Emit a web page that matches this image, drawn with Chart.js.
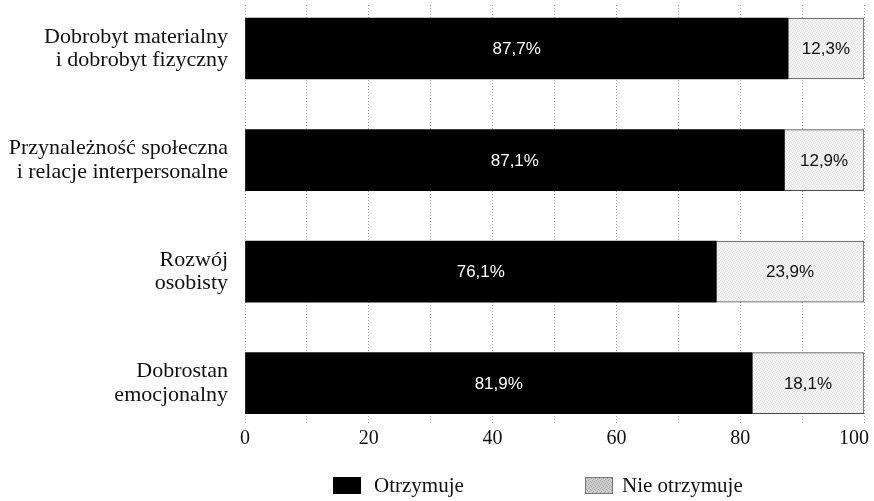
<!DOCTYPE html>
<html>
<head>
<meta charset="utf-8">
<script src="https://cdn.jsdelivr.net/npm/chart.js@4.4.0/dist/chart.umd.min.js"></script>
<style>
  html, body { margin: 0; padding: 0; background: #fff; }
  #wrap { width: 874px; height: 501px; position: relative; }
</style>
</head>
<body>
<div id="wrap"><canvas id="c" width="874" height="501"></canvas></div>
<script>
// Categories (two-line labels), shares in percent
const categories = [
  ['Dobrobyt materialny', 'i dobrobyt fizyczny'],
  ['Przynależność społeczna', 'i relacje interpersonalne'],
  ['Rozwój', 'osobisty'],
  ['Dobrostan', 'emocjonalny']
];
const receives = [87.7, 87.1, 76.1, 81.9];
const notReceives = [12.3, 12.9, 23.9, 18.1];
const seriesNames = ['Otrzymuje', 'Nie otrzymuje'];
const xTickLabels = [0, 20, 40, 60, 80, 100];

const SERIF = 'Liberation Serif';
const SANS = 'Liberation Sans';

// Fine stippled grey fill
function stipple(base, dot) {
  const p = document.createElement('canvas');
  p.width = 4; p.height = 4;
  const g = p.getContext('2d');
  g.fillStyle = base; g.fillRect(0, 0, 4, 4);
  g.fillStyle = dot;
  [[0, 0], [2, 1], [1, 3], [3, 2]].forEach(([x, y]) => g.fillRect(x, y, 1, 1));
  return g.createPattern(p, 'repeat');
}
const lightFill = stipple('#f2f2f2', '#e0e0e0');
const lightSwatch = stipple('#cdcdcd', '#a8a8a8');

const fmt = v => v.toFixed(1).replace('.', ',') + '%';

// Scales keep exactly the size they are given, with no extra edge padding
function fixedSize(prop, size) {
  return s => {
    s[prop] = size;
    s.paddingTop = 0; s.paddingBottom = 0; s.paddingLeft = 0; s.paddingRight = 0;
  };
}

// Percentage written in the middle of each segment
const valueLabels = {
  id: 'valueLabels',
  afterDatasetsDraw(chart) {
    const ctx = chart.ctx;
    ctx.save();
    ctx.font = '17px "' + SANS + '"';
    ctx.textAlign = 'center';
    ctx.textBaseline = 'middle';
    chart.data.datasets.forEach((ds, di) => {
      const meta = chart.getDatasetMeta(di);
      ctx.fillStyle = di === 0 ? '#ffffff' : '#111111';
      meta.data.forEach((bar, i) => {
        const p = bar.getProps(['x', 'y', 'base'], true);
        ctx.fillText(fmt(ds.data[i].x), (p.x + p.base) / 2, p.y + 1);
      });
    });
    ctx.restore();
  }
};

// Legend row under the axis
const legendRow = {
  id: 'legendRow',
  afterDraw(chart) {
    const ctx = chart.ctx;
    const xs = [333, 585];
    const cy = 485;
    const swatches = ['#000000', lightSwatch];
    const borders = ['#000000', '#777777'];
    ctx.save();
    ctx.font = '21px "' + SERIF + '"';
    ctx.textBaseline = 'middle';
    ctx.textAlign = 'left';
    chart.data.datasets.forEach((ds, i) => {
      ctx.fillStyle = swatches[i];
      ctx.fillRect(xs[i], cy - 8, 28, 17);
      ctx.strokeStyle = borders[i];
      ctx.lineWidth = 1;
      ctx.strokeRect(xs[i] + 0.5, cy - 7.5, 27, 16);
      ctx.fillStyle = '#111111';
      ctx.fillText(ds.label, xs[i] + 41 - i * 4, cy + 1);
    });
    ctx.restore();
  }
};

new Chart(document.getElementById('c'), {
  type: 'bar',
  data: {
    datasets: [
      {
        label: seriesNames[0],
        data: receives.map((v, i) => ({ x: v, y: i })),
        backgroundColor: '#000000',
        borderWidth: 0,
        barThickness: 61
      },
      {
        label: seriesNames[1],
        data: notReceives.map((v, i) => ({ x: v, y: i })),
        backgroundColor: lightFill,
        borderColor: '#4a4a4a',
        borderWidth: 1,
        borderSkipped: false,
        barThickness: 61
      }
    ]
  },
  options: {
    indexAxis: 'y',
    responsive: false,
    devicePixelRatio: 1,
    animation: false,
    layout: { autoPadding: false, padding: { top: 5, right: 10, bottom: 0, left: 0 } },
    plugins: { legend: { display: false }, tooltip: { enabled: false } },
    scales: {
      x: {
        type: 'linear',
        stacked: true,
        min: 0,
        max: 100,
        afterFit: fixedSize('height', 78),
        grid: { color: '#a3a3a3', lineWidth: 1, drawTicks: false },
        border: { display: false, dash: [1, 2] },
        ticks: {
          stepSize: 10,
          autoSkip: false,
          maxRotation: 0,
          padding: 4,
          color: '#111111',
          font: { family: SERIF, size: 20 },
          callback: v => xTickLabels.includes(v) ? (v === 100 ? '100\u2003' : String(v)) : ''
        }
      },
      y: {
        type: 'linear',
        stacked: true,
        reverse: true,
        offset: false,
        bounds: 'data',
        min: -0.39,
        max: 3.357,
        afterBuildTicks: s => { s.ticks = categories.map((_, i) => ({ value: i })); },
        afterFit: fixedSize('width', 245),
        grid: { display: false, drawTicks: false },
        border: { display: false },
        ticks: {
          autoSkip: false,
          padding: 17,
          color: '#111111',
          font: { family: SERIF, size: 22, lineHeight: 1.07 },
          callback: v => categories[v]
        }
      }
    }
  },
  plugins: [valueLabels, legendRow]
});
</script>
</body>
</html>
